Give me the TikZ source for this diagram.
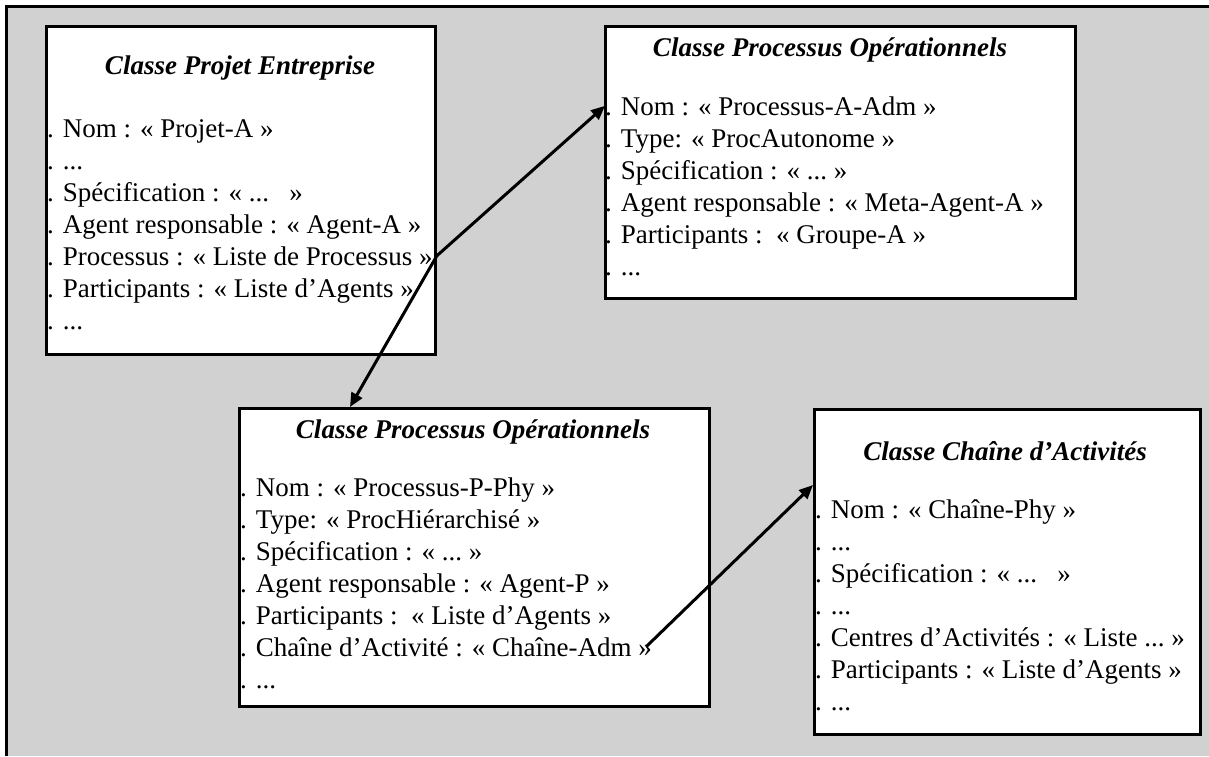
\documentclass[tikz,border=0pt]{standalone}
\usepackage{fontspec}
\setmainfont{Liberation Serif}
\usetikzlibrary{arrows.meta}
\newcommand\troispts{...}
\tikzset{
  classe/.style={draw, line width=2.8pt, fill=white, anchor=north west, inner sep=0pt},
  titre/.style={anchor=base, font=\fontsize{27}{30}\selectfont\bfseries\itshape},
  champ/.style={anchor=base west, inner sep=0pt, font=\fontsize{27}{30}\selectfont},
  lien/.style={line width=3pt, -{Triangle[length=14pt,width=12pt]}}
}
\begin{document}
\begin{tikzpicture}[x=1pt,y=-1pt]
    \useasboundingbox (0,0) rectangle (1209,756);
    \fill[black!18] (6,6) rectangle (1209,756);
    \draw[line width=3pt] (6,756) -- (6,6) -- (1209,6);
    % les quatre classes
    \node[classe, minimum width=389pt, minimum height=328pt] (projet) at (45,25) {};
    \node[classe, minimum width=470pt, minimum height=272pt] (procA) at (604,25) {};
    \node[classe, minimum width=470pt, minimum height=298pt] (procP) at (238,407) {};
    \node[classe, minimum width=386pt, minimum height=325pt] (chaine) at (813,408) {};
    % projet
    \node[titre] (projetT) at (240,74) {Classe Projet Entreprise};
    \foreach \t [count=\i] in {. Nom : « Projet-A », . \troispts, . Spécification : « \troispts\ \enspace», . Agent responsable : « Agent-A », . Processus : « Liste de Processus », . Participants : « Liste d’Agents », . \troispts}
        \node[champ] (projet\i) at (47,105+32*\i) {\t};
    % processus A
    \node[titre] (procAT) at (830,56) {Classe Processus Opérationnels};
    \foreach \t [count=\i] in {. Nom : « Processus-A-Adm », . Type: « ProcAutonome », . Spécification : « \troispts\ », . Agent responsable : « Meta-Agent-A », . Participants :\enspace « Groupe-A », . \troispts}
        \node[champ] (procA\i) at (605,83+32*\i) {\t};
    % processus P
    \node[titre] (procPT) at (473,438) {Classe Processus Opérationnels};
    \foreach \t [count=\i] in {. Nom : « Processus-P-Phy », . Type: « ProcHiérarchisé », . Spécification : « \troispts\ », . Agent responsable : « Agent-P », . Participants :\enspace « Liste d’Agents », . Chaîne d’Activité : « Chaîne-Adm », . \troispts}
        \node[champ] (procP\i) at (240,464+32*\i) {\t};
    % chaine
    \node[titre] (chaineT) at (1005,460) {Classe Chaîne d’Activités};
    \foreach \t [count=\i] in {. Nom : « Chaîne-Phy », . \troispts, . Spécification : « \troispts\ \enspace», . \troispts, . Centres d’Activités : « Liste \troispts\ », . Participants : « Liste d’Agents », . \troispts}
        \node[champ] (chaine\i) at (815,486+32*\i) {\t};
    % liens
    \draw[lien] (projet.east |- projet5) -- (procA1.west);
    \draw[lien] (projet.east |- projet5) -- ([xshift=112pt]procP.north west);
    \draw[lien] ([xshift=-6pt]procP6.east) -- ([yshift=-77pt]chaine.north west);
\end{tikzpicture}
\end{document}
